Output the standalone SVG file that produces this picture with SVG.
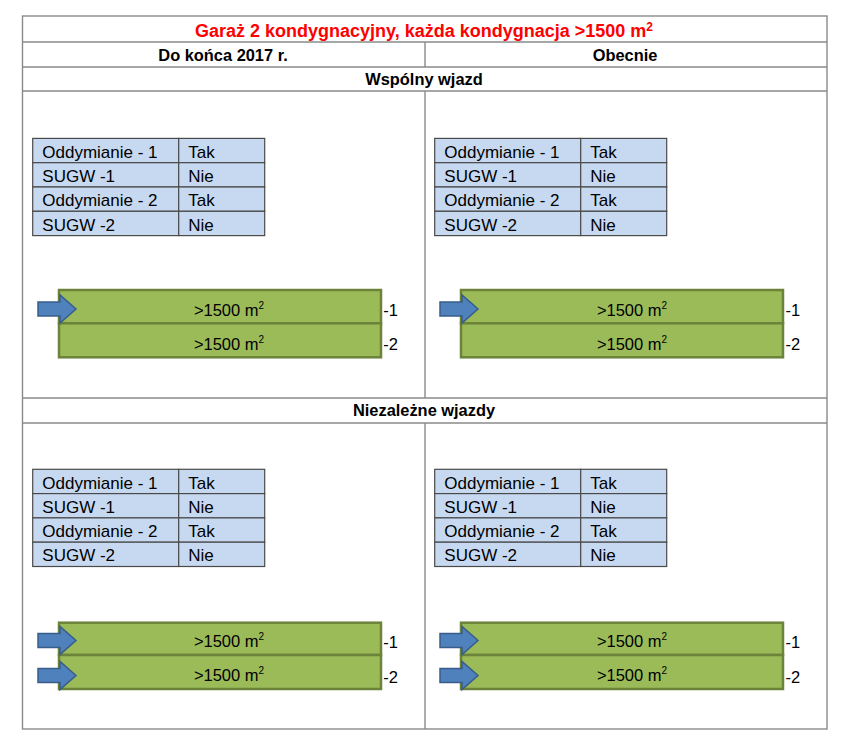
<svg xmlns="http://www.w3.org/2000/svg" width="844" height="755" viewBox="0 0 844 755">
<defs>
<style>
.grid{fill:none;stroke:#8a8a8a;stroke-width:1.4}
.t{font-family:"Liberation Sans",Arial,sans-serif;fill:#000}
.hd{font-size:16.4px;font-weight:bold;text-anchor:middle}
.title{font-size:18px;font-weight:bold;fill:#ff0000;text-anchor:middle}
.cell{fill:#c6d9f1;stroke:#4a4a4a;stroke-width:1.2}
.ct{font-size:17px}
.bar{fill:#9bbb59;stroke:#6b843a;stroke-width:2.5}
.bt{font-size:16.5px;text-anchor:middle}
.lab{font-size:16.5px}
.arr{fill:#4f81bd;stroke:#385d8a;stroke-width:1.5}
</style>
<path id="arrow" class="arr" d="M0,-7 H22 V-14 L38,0 L22,14 V7 H0 Z"/>
<g id="tbl">
<rect class="cell" x="0" y="0" width="146" height="24.3"/>
<rect class="cell" x="146" y="0" width="86" height="24.3"/>
<rect class="cell" x="0" y="24.3" width="146" height="24.3"/>
<rect class="cell" x="146" y="24.3" width="86" height="24.3"/>
<rect class="cell" x="0" y="48.6" width="146" height="24.3"/>
<rect class="cell" x="146" y="48.6" width="86" height="24.3"/>
<rect class="cell" x="0" y="72.9" width="146" height="24.3"/>
<rect class="cell" x="146" y="72.9" width="86" height="24.3"/>
<text class="t ct" x="9.6" y="19.3">Oddymianie - 1</text>
<text class="t ct" x="155.6" y="19.3">Tak</text>
<text class="t ct" x="9.6" y="43.6">SUGW -1</text>
<text class="t ct" x="155.6" y="43.6">Nie</text>
<text class="t ct" x="9.6" y="67.9">Oddymianie - 2</text>
<text class="t ct" x="155.6" y="67.9">Tak</text>
<text class="t ct" x="9.6" y="92.2">SUGW -2</text>
<text class="t ct" x="155.6" y="92.2">Nie</text>
</g>
</defs>
<rect width="844" height="755" fill="#ffffff"/>

<g id="frame">
<rect class="grid" x="22.5" y="16" width="804.5" height="713"/>
<line class="grid" x1="22.5" y1="42" x2="827" y2="42"/>
<line class="grid" x1="22.5" y1="67" x2="827" y2="67"/>
<line class="grid" x1="22.5" y1="91" x2="827" y2="91"/>
<line class="grid" x1="22.5" y1="398" x2="827" y2="398"/>
<line class="grid" x1="22.5" y1="423" x2="827" y2="423"/>
<line class="grid" x1="425" y1="42" x2="425" y2="67"/>
<line class="grid" x1="425" y1="91" x2="425" y2="398"/>
<line class="grid" x1="425" y1="423" x2="425" y2="729"/>
</g>

<g id="title">
<text class="t title" x="424" y="36.5">Garaż 2 kondygnacyjny, każda kondygnacja &gt;1500 m<tspan font-size="12" dy="-6">2</tspan></text>
</g>
<g id="headers">
<text class="t hd" x="223" y="60.5">Do końca 2017 r.</text>
<text class="t hd" x="625" y="60.5">Obecnie</text>
<text class="t hd" x="424" y="85">Wspólny wjazd</text>
<text class="t hd" x="424" y="416">Niezależne wjazdy</text>
</g>

<g id="table-tl"><use href="#tbl" x="32.7" y="138.4"/></g>
<g id="table-tr"><use href="#tbl" x="434.7" y="138.4"/></g>
<g id="table-bl"><use href="#tbl" x="32.7" y="469.3"/></g>
<g id="table-br"><use href="#tbl" x="434.7" y="469.3"/></g>

<g id="bars-tl">
<rect class="bar" x="59" y="290" width="322" height="33.3"/>
<rect class="bar" x="59" y="323.3" width="322" height="34"/>
<text class="t bt" x="229" y="316">&gt;1500 m<tspan font-size="10" dy="-7">2</tspan></text>
<text class="t bt" x="229" y="350">&gt;1500 m<tspan font-size="10" dy="-7">2</tspan></text>
<text class="t lab" x="383.3" y="315.5">-1</text>
<text class="t lab" x="383.3" y="350">-2</text>
</g>
<g id="bars-tr">
<rect class="bar" x="461" y="290" width="322" height="33.3"/>
<rect class="bar" x="461" y="323.3" width="322" height="34"/>
<text class="t bt" x="632" y="316">&gt;1500 m<tspan font-size="10" dy="-7">2</tspan></text>
<text class="t bt" x="632" y="350">&gt;1500 m<tspan font-size="10" dy="-7">2</tspan></text>
<text class="t lab" x="785.5" y="315.5">-1</text>
<text class="t lab" x="785.5" y="350">-2</text>
</g>
<g id="bars-bl">
<rect class="bar" x="59" y="622.7" width="322" height="32.3"/>
<rect class="bar" x="59" y="655" width="322" height="34"/>
<text class="t bt" x="229" y="647">&gt;1500 m<tspan font-size="10" dy="-7">2</tspan></text>
<text class="t bt" x="229" y="681">&gt;1500 m<tspan font-size="10" dy="-7">2</tspan></text>
<text class="t lab" x="383.3" y="648">-1</text>
<text class="t lab" x="383.3" y="683">-2</text>
</g>
<g id="bars-br">
<rect class="bar" x="461" y="622.7" width="322" height="32.3"/>
<rect class="bar" x="461" y="655" width="322" height="34"/>
<text class="t bt" x="632" y="647">&gt;1500 m<tspan font-size="10" dy="-7">2</tspan></text>
<text class="t bt" x="632" y="681">&gt;1500 m<tspan font-size="10" dy="-7">2</tspan></text>
<text class="t lab" x="785.5" y="648">-1</text>
<text class="t lab" x="785.5" y="683">-2</text>
</g>

<g id="connectors">
<use href="#arrow" x="38" y="309"/>
<use href="#arrow" x="440" y="309"/>
<use href="#arrow" x="38" y="640.5"/>
<use href="#arrow" x="38" y="675.5"/>
<use href="#arrow" x="440" y="640.5"/>
<use href="#arrow" x="440" y="675.5"/>
</g>
</svg>
